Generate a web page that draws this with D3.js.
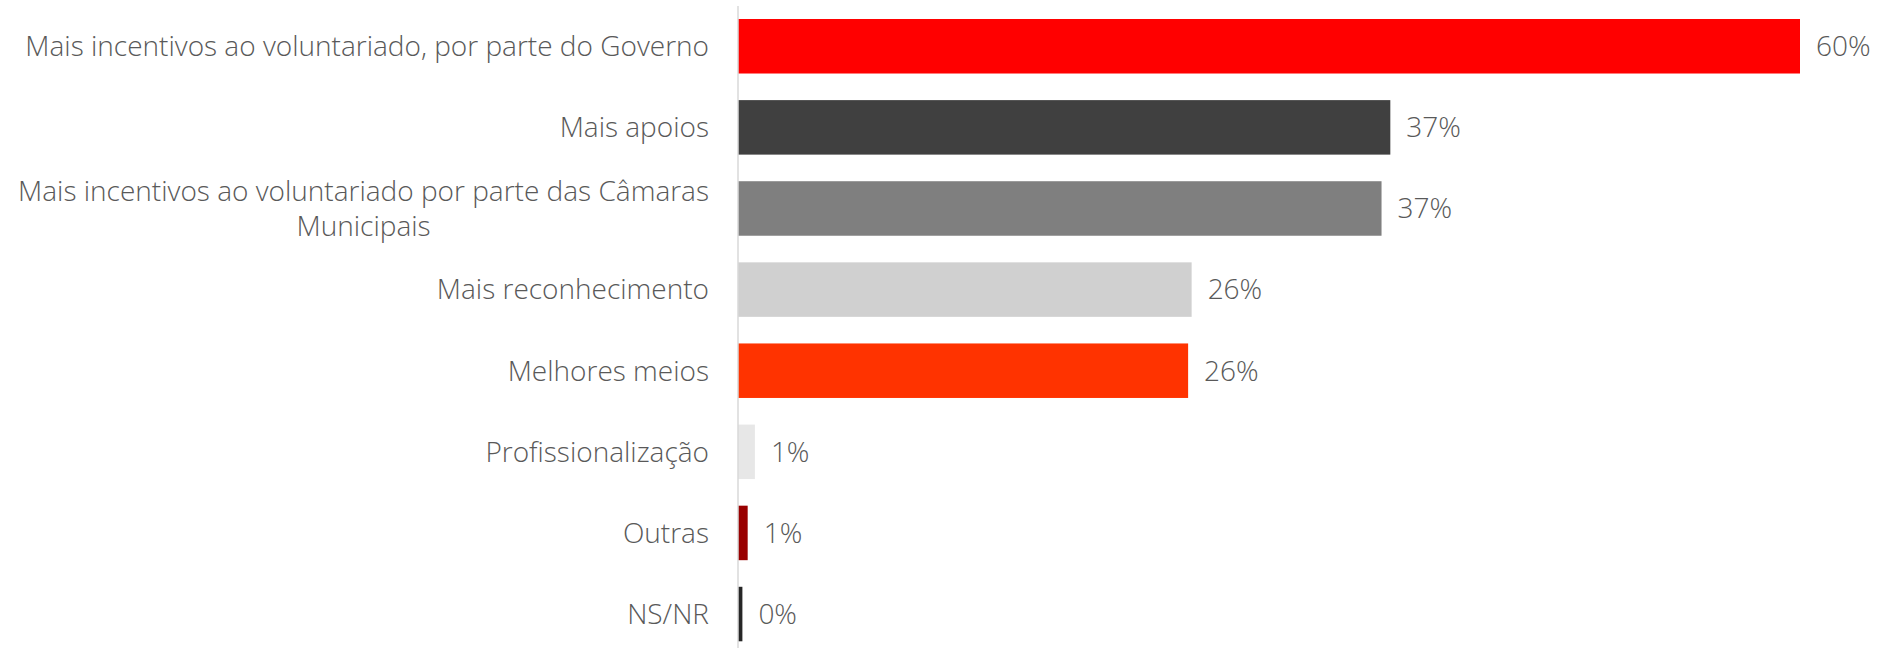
<!DOCTYPE html>
<html>
<head>
<meta charset="utf-8">
<script src="https://cdn.jsdelivr.net/npm/d3@7"></script>
<style>
  body { margin: 0; background: #fff; }
  text { font-family: "Open Sans", sans-serif; font-weight: 300; fill: #595959; }
</style>
</head>
<body>
<div class="barChart"></div>
<script>
var categories = [
    ["Mais incentivos ao voluntariado, por parte do Governo"],
    ["Mais apoios"],
    ["Mais incentivos ao voluntariado por parte das Câmaras", "Municipais"],
    ["Mais reconhecimento"],
    ["Melhores meios"],
    ["Profissionalização"],
    ["Outras"],
    ["NS/NR"]
];
var values = [0.604, 0.371, 0.366, 0.258, 0.256, 0.0096, 0.0055, 0.0025];
var colors = ["#ff0000", "#404040", "#7f7f7f", "#d0d0d0", "#ff3300", "#e7e7e7", "#990000", "#262626"];

var width = 1885,
    height = 648,
    axisX = 738;

var data = values.map(function(v, i) {
    return { key: i, label: categories[i], value: v, color: colors[i] };
});

var svg = d3.select(".barChart").append("svg")
    .attr("width", width)
    .attr("height", height);

var x = d3.scaleLinear()
    .domain([0, d3.max(values)])
    .range([axisX, 1800]);

var y = d3.scaleBand()
    .domain(data.map(function(d) { return d.key; }))
    .range([5.7, 654.6])
    .paddingInner(0.328)
    .paddingOuter(0.164);

var fmt = d3.format(".0%");

svg.selectAll("rect.bar")
    .data(data)
    .enter().append("rect")
    .attr("class", "bar")
    .attr("x", x(0))
    .attr("y", function(d) { return y(d.key); })
    .attr("width", function(d) { return x(d.value) - x(0); })
    .attr("height", y.bandwidth())
    .attr("fill", function(d) { return d.color; });

// vertical category axis line
svg.append("line")
    .attr("x1", axisX).attr("x2", axisX)
    .attr("y1", 6).attr("y2", height)
    .attr("stroke", "#d9d9d9")
    .attr("stroke-width", 1.5);

// category labels (multi-line ones centred on each other, block right-aligned)
var lineH = 35;
var labels = svg.selectAll("g.cat")
    .data(data)
    .enter().append("g")
    .attr("class", "cat");

labels.each(function(d) {
    var g = d3.select(this);
    var cy = y(d.key) + y.bandwidth() / 2;
    var n = d.label.length;
    var t = g.append("text")
        .style("font-size", "28px")
        .attr("text-anchor", "end");
    d.label.forEach(function(line, j) {
        t.append("tspan")
            .attr("x", axisX - 29)
            .attr("y", cy + (j - (n - 1) / 2) * lineH)
            .attr("dy", "0.35em")
            .text(line);
    });
    if (n > 1) {
        // centre the lines on the widest one
        var tspans = t.selectAll("tspan").nodes();
        var widths = tspans.map(function(s) { return s.getComputedTextLength(); });
        var maxW = d3.max(widths);
        tspans.forEach(function(s, j) {
            d3.select(s).attr("x", axisX - 29 - (maxW - widths[j]) / 2);
        });
    }
});

svg.selectAll("text.val")
    .data(data)
    .enter().append("text")
    .attr("class", "val")
    .attr("x", function(d) { return x(d.value) + 16; })
    .attr("y", function(d) { return y(d.key) + y.bandwidth() / 2; })
    .attr("dy", "0.35em")
    .style("font-size", "28px")
    .text(function(d) { return fmt(d.value); });
</script>
</body>
</html>
